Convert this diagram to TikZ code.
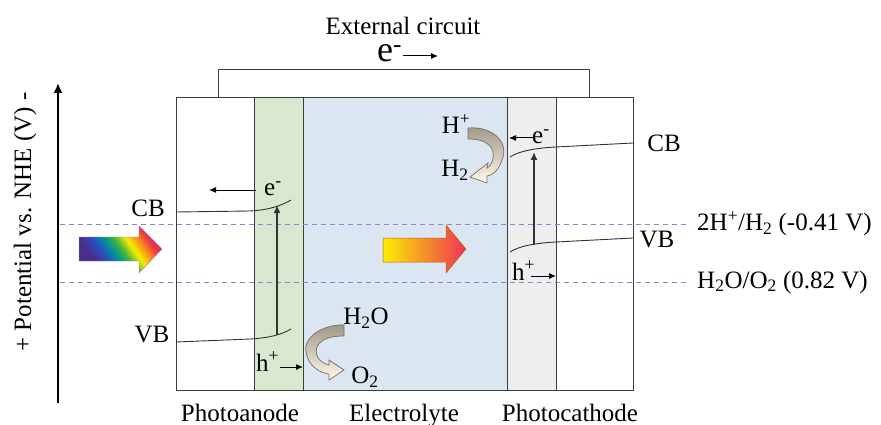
\documentclass[tikz,border=0pt]{standalone}
\usepackage{fontspec}
\setmainfont{Liberation Serif}
\usetikzlibrary{arrows.meta}
\definecolor{anodeGreen}{RGB}{216,231,205}
\definecolor{elecBlue}{RGB}{220,230,243}
\definecolor{cathGray}{RGB}{238,238,238}
\definecolor{dashBlue}{RGB}{135,135,205}
\definecolor{lineGray}{RGB}{60,60,60}
\definecolor{rbViolet}{RGB}{75,45,140}
\definecolor{rbBlue}{RGB}{40,80,190}
\definecolor{rbTeal}{RGB}{0,150,150}
\definecolor{rbGreen}{RGB}{70,180,60}
\definecolor{rbYellow}{RGB}{245,240,0}
\definecolor{rbOrange}{RGB}{245,140,30}
\definecolor{rbRed}{RGB}{235,50,70}
\definecolor{orYellow}{RGB}{250,238,0}
\definecolor{orOrange}{RGB}{247,150,20}
\definecolor{orRed}{RGB}{240,50,85}
\definecolor{curlTop}{RGB}{160,150,135}
\definecolor{curlBot}{RGB}{255,250,230}
\definecolor{curlLine}{RGB}{120,110,100}
\pgfdeclareverticalshading{rainbowshade}{100bp}{color(0bp)=(rbViolet); color(30bp)=(rbViolet); color(38bp)=(rbBlue); color(45bp)=(rbTeal); color(51bp)=(rbGreen); color(58bp)=(rbYellow); color(65bp)=(rbOrange); color(71bp)=(rbRed); color(100bp)=(rbRed)}
\tikzset{
  lbl/.style={font=\fontsize{25}{28}\selectfont, inner sep=0pt},
  boxline/.style={draw=lineGray, line width=0.9pt},
  levelline/.style={draw=dashBlue, line width=0.9pt, dash pattern=on 5pt off 4pt},
  bandline/.style={draw=black!80, line width=0.9pt},
  smallarr/.style={line width=1pt, -{Latex[length=7pt,width=6pt]}},
  excite/.style={line width=1.8pt, draw=black!80, -{Latex[length=8pt,width=7pt]}},
  curl/.style={draw=curlLine, line width=0.7pt, top color=curlTop, bottom color=curlBot}
}
\begin{document}
\begin{tikzpicture}[x=1pt,y=-1pt]
\useasboundingbox (0,0) rectangle (881,425);
% regions
\fill[anodeGreen] (254,97) rectangle (303,390);
\fill[elecBlue] (303,97) rectangle (507,390);
\fill[cathGray] (507,97) rectangle (556,390);
% box lines
\draw[boxline] (176,97) rectangle (633,390);
\draw[boxline] (254,97) -- (254,390);
\draw[boxline] (303,97) -- (303,390);
\draw[boxline] (507,97) -- (507,390);
\draw[boxline] (556,97) -- (556,390);
% external circuit
\coordinate (wl) at (218,97);
\coordinate (wr) at (589,97);
\draw[boxline] (wl) -- (218,69.5) -- (589,69.5) -- (wr);
\node[lbl] (ext) at (403,26) {External circuit};
\node[anchor=base west, inner sep=0pt, text height=18pt, text depth=0pt, font=\fontsize{36}{40}\selectfont] (ebig) at (377,62) {e\textsuperscript{-}};
\coordinate (ea1) at (403,56);
\coordinate (ea2) at (438,56);
\draw[smallarr] (ea1) -- (ea2);
% potential axis
\coordinate (ax0) at (58,403);
\coordinate (ax1) at (58,83);
\draw[line width=2.4pt, -{Latex[length=10pt,width=9pt]}] (ax0) -- (ax1);
\node[lbl, rotate=90] (axlbl) at (25,222) {+ Potential vs. NHE (V) -};
% level lines
\coordinate (l1a) at (60,224);
\coordinate (l1b) at (690,224);
\coordinate (l2a) at (60,282);
\coordinate (l2b) at (690,282);
\draw[levelline] (l1a) -- (l1b);
\draw[levelline] (l2a) -- (l2b);
\node[lbl, anchor=west] (lv1) at (697,224) {2H\textsuperscript{+}/H\textsubscript{2} (-0.41 V)};
\node[lbl, anchor=west] (lv2) at (697,282) {H\textsubscript{2}O/O\textsubscript{2} (0.82 V)};
% light arrows
\path[shading=rainbowshade, shading angle=-55, draw=rbViolet!60, line width=0.4pt]
  (79,237) -- (139,237) -- (139,226) -- (162,249) -- (139,273) -- (139,261) -- (79,261) -- cycle;
\path[left color=orYellow, middle color=orOrange, right color=orRed, draw=orOrange!70!black, line width=0.5pt]
  (383,238) -- (446,238) -- (446,225) -- (466,249) -- (446,273) -- (446,262) -- (383,262) -- cycle;
% photoanode bands
\draw[bandline] (176,212) -- (250,211) .. controls (268,210) and (281,206) .. (291,200);
\draw[bandline] (176,342) -- (250,339) .. controls (268,338) and (281,335) .. (291,329);
\coordinate (pa1) at (277,335);
\coordinate (pa2) at (277,205);
\draw[excite] (pa1) -- (pa2);
\node[lbl] (cbl) at (148,208) {CB};
\node[lbl] (vbl) at (152,335) {VB};
\node[lbl, anchor=base west] (ean) at (264,196) {e\textsuperscript{-}};
\coordinate (eaA) at (256,190);
\coordinate (eaB) at (209,190);
\draw[smallarr] (eaA) -- (eaB);
\node[lbl, anchor=base west] (han) at (256,371) {h\textsuperscript{+}};
\coordinate (haA) at (280,367);
\coordinate (haB) at (303,367);
\draw[smallarr] (haA) -- (haB);
% water oxidation curl
\path[curl] (344,325) .. controls (325,324) and (303,336) .. (306,352)
  .. controls (308,366) and (320,373) .. (329,374) -- (329,380) -- (344,370) -- (329,360)
  -- (329,365) .. controls (319,363) and (313,353) .. (318,345)
  .. controls (323,338) and (333,336) .. (344,336) -- cycle;
\node[lbl] (h2o) at (366,318) {H\textsubscript{2}O};
\node[lbl] (o2) at (365,377) {O\textsubscript{2}};
% photocathode bands
\draw[bandline] (633,143) -- (556,147) .. controls (536,148) and (519,151) .. (510,157);
\draw[bandline] (633,238) -- (556,242) .. controls (536,243) and (519,246) .. (510,252);
\coordinate (pc1) at (534,245);
\coordinate (pc2) at (534,152);
\draw[excite] (pc1) -- (pc2);
\node[lbl] (cbr) at (664,143) {CB};
\node[lbl] (vbr) at (657,240) {VB};
\node[lbl, anchor=base west] (eca) at (532,144) {e\textsuperscript{-}};
\coordinate (ecA) at (533,138);
\coordinate (ecB) at (509,138);
\draw[smallarr] (ecA) -- (ecB);
\node[lbl, anchor=base west] (hca) at (512,280) {h\textsuperscript{+}};
\coordinate (hcA) at (531,276);
\coordinate (hcB) at (556,276);
\draw[smallarr] (hcA) -- (hcB);
% proton reduction curl
\path[curl] (468,128) .. controls (490,126) and (508,140) .. (503,157)
  .. controls (500,168) and (494,175) .. (487,176) -- (487,183) -- (470,177) -- (488,163)
  -- (487,168) .. controls (493,165) and (496,152) .. (490,146)
  .. controls (484,140) and (476,139) .. (468,139) -- cycle;
\node[lbl] (hp) at (456,124) {H\textsuperscript{+}};
\node[lbl] (h2) at (455,170) {H\textsubscript{2}};
% bottom labels
\node[lbl, anchor=base] (lanode) at (240,421) {Photoanode};
\node[lbl, anchor=base] (lelec) at (404,421) {Electrolyte};
\node[lbl, anchor=base] (lcath) at (570,421) {Photocathode};
\end{tikzpicture}
\end{document}
